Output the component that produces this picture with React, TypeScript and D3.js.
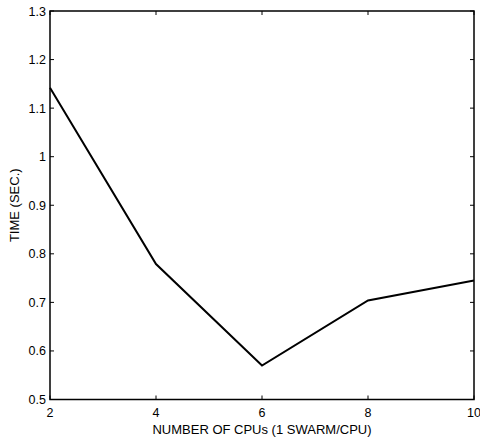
import React, { useRef, useEffect } from 'react';
import * as d3 from 'd3';

// chart data
const cpus = [2, 4, 6, 8, 10];
const times = [1.142, 0.779, 0.57, 0.704, 0.745];
const xTicks = [2, 4, 6, 8, 10];
const yTicks = [0.5, 0.6, 0.7, 0.8, 0.9, 1, 1.1, 1.2, 1.3];

const W = 480;
const H = 441;
const M = { left: 50, right: 6, top: 11, bottom: 41.5 };
const FONT = "'Liberation Sans', Arial, sans-serif";

const App = () => {
  const svgRef = useRef<SVGSVGElement | null>(null);

  useEffect(() => {
    if (!svgRef.current) return;
    const svg = d3.select(svgRef.current);
    svg.selectAll('*').remove();

    const x = d3.scaleLinear().domain([2, 10]).range([M.left, W - M.right]);
    const y = d3.scaleLinear().domain([0.5, 1.3]).range([H - M.bottom, M.top]);
    const tickLen = 4;

    const g = svg.append('g');

    // ticks, pointing inward on all four sides
    const ticks = g.append('g').attr('stroke', '#000').attr('stroke-width', 1);
    xTicks.forEach(t => {
      ticks.append('line').attr('x1', x(t)).attr('x2', x(t))
        .attr('y1', y(0.5)).attr('y2', y(0.5) - tickLen);
      ticks.append('line').attr('x1', x(t)).attr('x2', x(t))
        .attr('y1', y(1.3)).attr('y2', y(1.3) + tickLen);
    });
    yTicks.forEach(t => {
      ticks.append('line').attr('x1', x(2)).attr('x2', x(2) + tickLen)
        .attr('y1', y(t)).attr('y2', y(t));
      ticks.append('line').attr('x1', x(10)).attr('x2', x(10) - tickLen)
        .attr('y1', y(t)).attr('y2', y(t));
    });

    // box
    g.append('rect')
      .attr('x', x(2)).attr('y', y(1.3))
      .attr('width', x(10) - x(2)).attr('height', y(0.5) - y(1.3))
      .attr('fill', 'none').attr('stroke', '#000').attr('stroke-width', 1.5);

    // tick labels
    g.selectAll('.xl').data(xTicks).enter().append('text')
      .attr('x', d => x(d)).attr('y', y(0.5) + 17.5)
      .attr('text-anchor', 'middle')
      .attr('font-family', FONT).attr('font-size', 12.5).attr('fill', '#000')
      .text(d => String(d));

    g.selectAll('.yl').data(yTicks).enter().append('text')
      .attr('x', x(2) - 4).attr('y', d => y(d) + 4.5)
      .attr('text-anchor', 'end')
      .attr('font-family', FONT).attr('font-size', 12.5).attr('fill', '#000')
      .text(d => String(d));

    // data line
    const line = d3.line<number>()
      .x((_, i) => x(cpus[i]))
      .y(d => y(d));
    g.append('path')
      .datum(times)
      .attr('d', line)
      .attr('fill', 'none')
      .attr('stroke', '#000')
      .attr('stroke-width', 2)
      .attr('stroke-linejoin', 'miter');

    // axis titles
    g.append('text')
      .attr('x', (x(2) + x(10)) / 2).attr('y', 433.5)
      .attr('text-anchor', 'middle')
      .attr('font-family', FONT).attr('font-size', 13).attr('fill', '#000')
      .text('NUMBER OF CPUs (1 SWARM/CPU)');

    g.append('text')
      .attr('transform', `translate(19, ${(y(0.5) + y(1.3)) / 2}) rotate(-90)`)
      .attr('text-anchor', 'middle')
      .attr('font-family', FONT).attr('font-size', 13).attr('fill', '#000')
      .text('TIME (SEC.)');
  }, []);

  return (
    <svg
      ref={svgRef}
      width={W}
      height={H}
      style={{ position: 'absolute', left: 0, top: 0, background: '#fff' }}
    />
  );
};

export default App;
